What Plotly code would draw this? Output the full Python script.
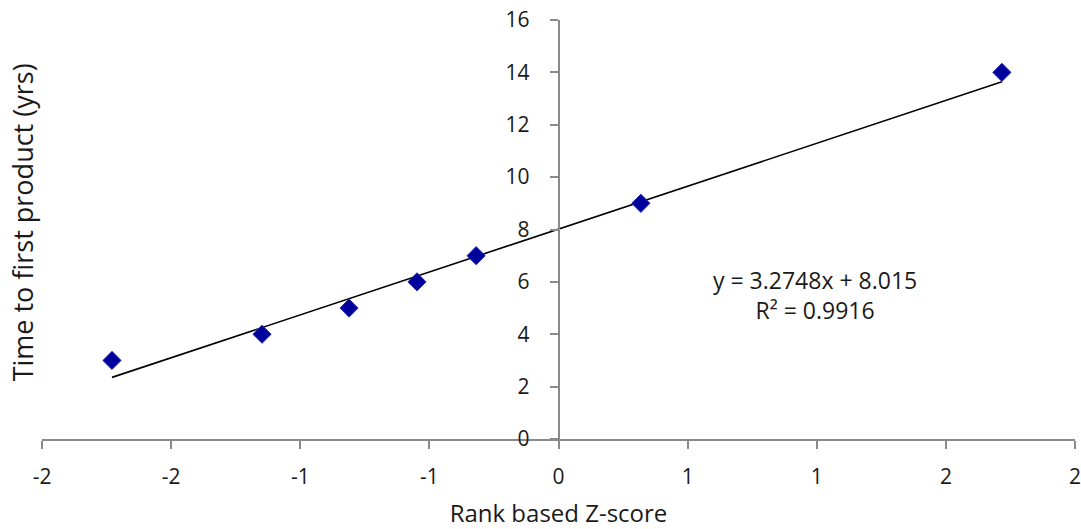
import plotly.graph_objects as go

z_scores = [-1.729, -1.148, -0.811, -0.548, -0.319, 0.319, 1.717]
years = [3, 4, 5, 6, 7, 9, 14]
slope = 3.2748
intercept = 8.015
x_tickvals = [-2, -1.5, -1, -0.5, 0, 0.5, 1, 1.5, 2]
x_ticktext = ["-2", "-2", "-1", "-1", "0", "1", "1", "2", "2"]
y_tickvals = [0, 2, 4, 6, 8, 10, 12, 14, 16]

FONT = "Open Sans"
AXIS_COLOR = "#8a8a8a"
TEXT = "#1a1a1a"

trend_x = [min(z_scores), max(z_scores)]
trend_y = [slope * v + intercept for v in trend_x]

fig = go.Figure()
fig.add_trace(go.Scatter(x=trend_x, y=trend_y, mode="lines",
                         line=dict(color="black", width=1.6),
                         hoverinfo="skip", showlegend=False))
fig.add_trace(go.Scatter(x=z_scores, y=years, mode="markers",
                         marker=dict(symbol="diamond", size=14, color="#00009c",
                                     line=dict(color="#2a2ab0", width=1)),
                         showlegend=False))

# the figure is a bit wider than the window so the last tick label is not clipped
fig.update_layout(
    width=1089, height=529,
    margin=dict(l=42, r=14, t=20, b=90),
    paper_bgcolor="white", plot_bgcolor="white",
    font=dict(family=FONT, color=TEXT),
    xaxis=dict(range=[-2, 2], tickvals=x_tickvals, ticktext=x_ticktext,
               automargin=False, ticklabeloverflow="allow",
               showgrid=False, zeroline=False, showline=True,
               linecolor=AXIS_COLOR, linewidth=1.5,
               ticks="outside", ticklen=8, tickcolor=AXIS_COLOR, tickwidth=1.5,
               ticklabelstandoff=10,
               tickfont=dict(size=21, family=FONT, color=TEXT),
               title=dict(text="Rank based Z-score", standoff=18,
                          font=dict(size=24, family=FONT, color=TEXT))),
    yaxis=dict(range=[0, 16], tickvals=y_tickvals,
               anchor="free", position=0.5, automargin=False,
               ticklabeloverflow="allow",
               showgrid=False, zeroline=False, showline=True,
               linecolor=AXIS_COLOR, linewidth=1.5,
               ticks="outside", ticklen=8, tickcolor=AXIS_COLOR, tickwidth=1.5,
               ticklabelstandoff=16,
               tickfont=dict(size=21, family=FONT, color=TEXT)),
    annotations=[
        dict(text="Time to first product (yrs)", xref="paper", yref="paper",
             x=-0.018, y=0.518, xanchor="center", yanchor="middle",
             textangle=-90, showarrow=False,
             font=dict(size=27, family=FONT, color=TEXT)),
        dict(text=f"y = {slope}x + {intercept}<br>R² = 0.9916",
             xref="x", yref="y", x=0.993, y=5.5, showarrow=False,
             xanchor="center", yanchor="middle", align="center",
             font=dict(size=23, family=FONT, color=TEXT)),
    ],
)

fig.write_html(
    "out.html",
    config={"displayModeBar": False},
    post_script="document.body.style.margin='0';document.body.style.overflow='hidden';",
)
